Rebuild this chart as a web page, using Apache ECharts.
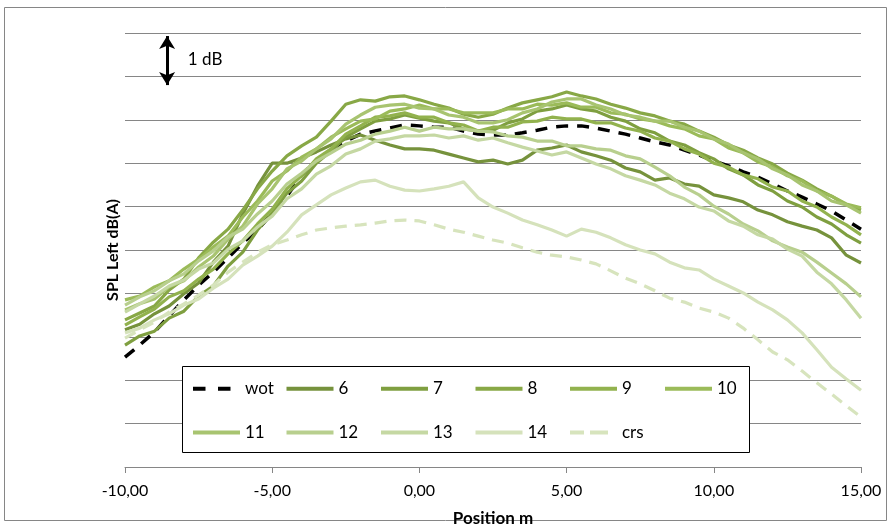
<!DOCTYPE html>
<html><head><meta charset="utf-8">
<script src="https://cdn.jsdelivr.net/npm/echarts@6/dist/echarts.min.js"></script>
<style>html,body{margin:0;padding:0;background:#fff}#c{width:892px;height:527px}</style>
</head><body><div id="c"></div>
<script>
// Position along track (m)
const positions = [-10,-9.5,-9,-8.5,-8,-7.5,-7,-6.5,-6,-5.5,-5,-4.5,-4,-3.5,-3,-2.5,-2,-1.5,-1,-0.5,0,0.5,1,1.5,2,2.5,3,3.5,4,4.5,5,5.5,6,6.5,7,7.5,8,8.5,9,9.5,10,10.5,11,11.5,12,12.5,13,13.5,14,14.5,15];
// Relative SPL values, dB (1 grid step = 1 dB)
const wot = [2.53,2.81,3.11,3.48,3.85,4.19,4.49,4.82,5.16,5.46,5.85,6.24,6.73,7.07,7.30,7.51,7.67,7.74,7.81,7.88,7.86,7.83,7.83,7.74,7.67,7.65,7.65,7.70,7.76,7.83,7.86,7.86,7.81,7.74,7.67,7.58,7.49,7.42,7.30,7.19,7.05,6.94,6.80,6.68,6.52,6.36,6.22,6.06,5.90,5.69,5.48];
const s6 = [3.16,3.29,3.53,3.71,3.99,4.24,4.72,5.09,5.83,6.47,7.00,7.00,7.12,7.26,7.42,7.56,7.65,7.53,7.42,7.33,7.33,7.30,7.21,7.12,7.03,7.07,6.98,7.07,7.30,7.35,7.42,7.26,7.17,7.07,6.89,6.80,6.61,6.66,6.52,6.47,6.27,6.20,6.11,5.92,5.81,5.65,5.55,5.46,5.28,4.88,4.70];
const s7 = [2.81,3.02,3.13,3.43,3.59,3.94,4.17,4.63,4.95,5.46,5.85,6.31,6.59,7.00,7.28,7.60,7.79,7.97,8.02,8.11,8.04,7.97,7.93,7.79,7.74,7.76,7.93,8.02,8.20,8.25,8.34,8.25,8.20,8.06,7.97,7.79,7.70,7.51,7.42,7.24,7.10,6.87,6.73,6.50,6.36,6.13,5.99,5.76,5.60,5.35,5.16];
const s8 = [3.39,3.55,3.71,4.08,4.33,4.82,5.18,5.48,5.92,6.41,6.82,7.17,7.40,7.60,7.97,8.36,8.46,8.43,8.53,8.55,8.46,8.36,8.27,8.13,8.06,8.13,8.27,8.39,8.46,8.53,8.64,8.55,8.48,8.36,8.27,8.16,8.09,7.97,7.90,7.74,7.60,7.42,7.30,7.12,6.98,6.77,6.61,6.41,6.24,6.04,5.92];
const s9 = [3.27,3.46,3.64,3.92,4.06,4.33,4.56,4.91,5.21,5.60,5.94,6.41,6.71,7.10,7.33,7.67,7.86,8.06,8.09,8.16,8.06,8.06,7.93,7.88,7.74,7.83,7.83,7.95,7.97,8.06,8.02,8.02,7.93,7.93,7.81,7.74,7.58,7.51,7.33,7.21,7.00,6.91,6.73,6.64,6.45,6.36,6.13,5.99,5.76,5.58,5.35];
const s10 = [3.85,3.94,4.15,4.29,4.56,4.79,5.07,5.32,5.76,6.13,6.59,6.82,7.14,7.33,7.60,7.79,7.97,8.02,8.20,8.25,8.34,8.25,8.25,8.16,8.16,8.16,8.25,8.25,8.36,8.34,8.39,8.29,8.29,8.16,8.13,8.02,7.97,7.86,7.79,7.63,7.56,7.35,7.24,7.03,6.91,6.71,6.59,6.36,6.24,6.06,5.97];
const s11 = [3.62,3.76,3.87,4.15,4.29,4.61,4.86,5.25,5.55,6.06,6.41,6.87,7.05,7.33,7.56,7.90,8.11,8.29,8.34,8.36,8.27,8.25,8.11,8.06,7.93,7.93,8.00,8.16,8.25,8.41,8.48,8.48,8.34,8.25,8.11,8.06,7.97,7.97,7.83,7.74,7.56,7.44,7.24,7.10,6.87,6.73,6.50,6.36,6.13,6.04,5.85];
const s12 = [3.73,3.92,4.06,4.29,4.45,4.75,4.98,5.30,5.48,5.83,6.13,6.52,6.77,7.05,7.24,7.44,7.53,7.67,7.74,7.83,7.74,7.83,7.79,7.79,7.74,7.72,7.63,7.60,7.51,7.51,7.40,7.40,7.33,7.30,7.17,7.10,6.91,6.71,6.45,6.27,6.01,5.83,5.60,5.44,5.21,5.07,4.95,4.72,4.47,4.22,3.92];
const s13 = [3.57,3.76,3.94,4.17,4.31,4.56,4.70,5.02,5.21,5.53,5.78,6.18,6.41,6.75,6.94,7.21,7.33,7.51,7.56,7.63,7.63,7.65,7.58,7.63,7.53,7.58,7.47,7.37,7.28,7.19,7.26,7.12,6.98,6.87,6.71,6.61,6.50,6.31,6.18,5.99,5.90,5.67,5.55,5.35,5.25,5.02,4.86,4.49,4.22,3.85,3.43];
const s14 = [3.09,3.20,3.39,3.53,3.73,3.87,4.12,4.33,4.65,4.86,5.09,5.41,5.81,6.04,6.27,6.43,6.57,6.61,6.47,6.38,6.36,6.41,6.47,6.57,6.20,5.99,5.85,5.69,5.58,5.46,5.32,5.48,5.41,5.28,5.12,5.00,4.91,4.72,4.59,4.54,4.33,4.17,4.01,3.80,3.62,3.39,3.09,2.70,2.30,2.03,1.77];
const crs = [2.97,3.16,3.34,3.57,3.76,3.96,4.19,4.49,4.72,4.95,5.12,5.23,5.35,5.46,5.51,5.55,5.58,5.62,5.67,5.69,5.67,5.58,5.48,5.41,5.32,5.23,5.16,5.05,4.95,4.88,4.84,4.77,4.68,4.52,4.35,4.22,4.06,3.89,3.80,3.66,3.57,3.43,3.20,2.93,2.65,2.47,2.21,1.94,1.68,1.41,1.15];

const seriesNames = ['wot','6','7','8','9','10','11','12','13','14','crs'];
const seriesValues = [wot,s6,s7,s8,s9,s10,s11,s12,s13,s14,crs];
// legend grid: columns of two rows
const legendColumns = [['wot','11'],['6','12'],['7','13'],['8','14'],['9','crs'],['10']];
const xTickValues = [-10,-5,0,5,10,15];
const xTickLabels = ['-10,00','-5,00','0,00','5,00','10,00','15,00'];
const scaleBar = {x: -8.57, from: 9.93, to: 8.80, label: '1 dB', labelX: -7.28, labelY: 9.40};

const colors = ['#000000','#76923C','#7F9F40','#88A846','#92B24E','#9BBB59','#A8C470','#B8CF8E','#C5D8A3','#D5E2BB','#D7E4BD'];
const dashes = {'wot':[12,9],'crs':[12,8]};
const legendDashes = {'wot':[12.5,12.5],'crs':[14,6,18,9]};

const series = seriesNames.map((name, k) => {
  const s = {
    name: name,
    type: 'line',
    data: positions.map((p, i) => [p, seriesValues[k][i]]),
    showSymbol: false,
    symbol: 'none',
    smooth: false,
    lineStyle: {color: colors[k], width: name === 'wot' ? 3.5 : 3.2, type: dashes[name] || 'solid', cap: 'butt'},
    itemStyle: {color: colors[k]},
    z: 2
  };
  if (name === 'wot') {
    s.markLine = {
      silent: true, symbol: ['arrow','arrow'], symbolSize: [12, 13],
      label: {show: false},
      lineStyle: {color: '#000', type: 'solid', width: 3},
      data: [[{coord: [scaleBar.x, scaleBar.from]}, {coord: [scaleBar.x, scaleBar.to]}]]
    };
    s.markPoint = {
      silent: true, symbol: 'rect', symbolSize: 1,
      itemStyle: {color: 'rgba(0,0,0,0)'},
      label: {show: true, position: 'inside', formatter: scaleBar.label, color: '#000', fontSize: 17, fontFamily: 'Lato'},
      data: [{coord: [scaleBar.labelX, scaleBar.labelY]}]
    };
  }
  return s;
});

// legend box and column placement (layout only)
const legendBox = {x: 182, y: 366, w: 567, h: 86};
const legendColX = [191, 284.5, 379, 473.5, 568, 663];

const legends = legendColumns.map((names, c) => ({
  data: names.map(n => ({name: n, lineStyle: {width: 4, type: legendDashes[n] || 'solid'}})),
  left: legendColX[c], top: 376.5,
  orient: 'vertical', padding: 0,
  itemWidth: 47, itemHeight: 30.5, itemGap: 19.5,
  itemStyle: {opacity: 0, borderWidth: 0},
  textStyle: {fontFamily: 'Lato', fontSize: 17, color: '#000'},
  selectedMode: false, z: 6
}));

const chart = echarts.init(document.getElementById('c'), null, {renderer: 'canvas'});
chart.setOption({
  animation: false,
  backgroundColor: '#ffffff',
  grid: {left: 125, right: 31, top: 33, bottom: 60, containLabel: false, outerBoundsMode: 'none'},
  xAxis: {
    type: 'value', min: -10, max: 15, interval: 5,
    name: 'Position m', nameLocation: 'middle', nameGap: 43,
    nameTextStyle: {fontFamily: 'Lato', fontWeight: 'bold', fontSize: 17, color: '#000'},
    axisLine: {show: true, onZero: false, lineStyle: {color: '#868686', width: 1}},
    axisTick: {show: true, length: 6, lineStyle: {color: '#868686'}},
    axisLabel: {fontFamily: 'Lato', fontSize: 16, color: '#000', margin: 16,
      formatter: v => { const i = xTickValues.indexOf(v); return i >= 0 ? xTickLabels[i] : ''; }},
    splitLine: {show: false}
  },
  yAxis: {
    type: 'value', min: 0, max: 10, interval: 1,
    name: 'SPL Left dB(A)', nameLocation: 'middle', nameGap: 4, nameRotate: 90,
    nameTextStyle: {fontFamily: 'Lato', fontWeight: 'bold', fontSize: 16, color: '#000'},
    axisLine: {show: false}, axisTick: {show: false}, axisLabel: {show: false},
    splitLine: {show: true, lineStyle: {color: '#868686', width: 1}}
  },
  legend: legends,
  graphic: [
    {type: 'rect', shape: {x: 4.5, y: 7.5, width: 882, height: 513}, style: {fill: 'none', stroke: '#868686', lineWidth: 1}, silent: true, z: -10},
    {type: 'rect', shape: {x: legendBox.x + 0.5, y: legendBox.y + 0.5, width: legendBox.w, height: legendBox.h}, style: {fill: '#ffffff', stroke: '#000000', lineWidth: 1}, silent: true, z: 5}
  ],
  series: series
});
</script></body></html>
